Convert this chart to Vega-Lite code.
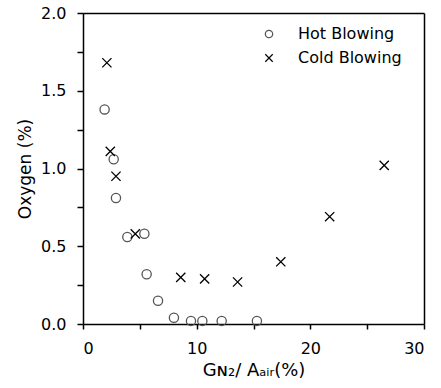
{
  "$schema": "https://vega.github.io/schema/vega-lite/v6.json",
  "width": 341,
  "height": 311,
  "autosize": {"type": "none"},
  "padding": {"left": 83, "top": 13, "right": 17, "bottom": 64},
  "config": {
    "font": "DejaVu Sans",
    "view": {"stroke": null},
    "axis": {
      "domainColor": "black",
      "domainWidth": 1.5,
      "tickColor": "black",
      "tickWidth": 1.5,
      "labelColor": "black",
      "titleColor": "black",
      "labelFontSize": 16,
      "titleFontWeight": "normal"
    }
  },
  "data": {
    "values": [
      {"series": "Hot Blowing", "g": 1.9, "o": 1.38},
      {"series": "Hot Blowing", "g": 2.7, "o": 1.06},
      {"series": "Hot Blowing", "g": 2.9, "o": 0.81},
      {"series": "Hot Blowing", "g": 3.9, "o": 0.56},
      {"series": "Hot Blowing", "g": 5.4, "o": 0.58},
      {"series": "Hot Blowing", "g": 5.6, "o": 0.32},
      {"series": "Hot Blowing", "g": 6.6, "o": 0.15},
      {"series": "Hot Blowing", "g": 8.0, "o": 0.04},
      {"series": "Hot Blowing", "g": 9.5, "o": 0.02},
      {"series": "Hot Blowing", "g": 10.5, "o": 0.02},
      {"series": "Hot Blowing", "g": 12.2, "o": 0.02},
      {"series": "Hot Blowing", "g": 15.3, "o": 0.02},
      {"series": "Cold Blowing", "g": 2.1, "o": 1.68},
      {"series": "Cold Blowing", "g": 2.4, "o": 1.11},
      {"series": "Cold Blowing", "g": 2.9, "o": 0.95},
      {"series": "Cold Blowing", "g": 4.6, "o": 0.58},
      {"series": "Cold Blowing", "g": 8.6, "o": 0.3},
      {"series": "Cold Blowing", "g": 10.7, "o": 0.29},
      {"series": "Cold Blowing", "g": 13.6, "o": 0.27},
      {"series": "Cold Blowing", "g": 17.4, "o": 0.4},
      {"series": "Cold Blowing", "g": 21.7, "o": 0.69},
      {"series": "Cold Blowing", "g": 26.5, "o": 1.02}
    ]
  },
  "mark": {"type": "point", "filled": false, "strokeWidth": 1.3, "size": 85, "opacity": 1},
  "encoding": {
    "x": {
      "field": "g",
      "type": "quantitative",
      "scale": {"domain": [0, 30], "nice": false},
      "axis": {
        "values": [0, 5, 10, 15, 20, 25, 30],
        "labelExpr": "datum.value % 10 === 0 ? datum.label : ''",
        "title": "Gɴ₂/ Aₐᵢᵣ(%)",
        "titleFontSize": 18,
        "tickSize": 5,
        "labelPadding": 11,
        "titlePadding": 5,
        "grid": true,
        "gridColor": "black",
        "gridWidth": 1.5,
        "gridOpacity": {"condition": {"test": "datum.value === 30", "value": 1}, "value": 0}
      }
    },
    "y": {
      "field": "o",
      "type": "quantitative",
      "scale": {"domain": [0, 2], "nice": false},
      "axis": {
        "values": [0, 0.25, 0.5, 0.75, 1, 1.25, 1.5, 1.75, 2],
        "labelExpr": "datum.value % 0.5 === 0 ? format(datum.value, '.1f') : ''",
        "title": "Oxygen (%)",
        "titleFontSize": 17,
        "tickSize": 6,
        "labelPadding": 11,
        "titlePadding": 6,
        "grid": true,
        "gridColor": "black",
        "gridWidth": 1.5,
        "gridOpacity": {"condition": {"test": "datum.value === 2", "value": 1}, "value": 0}
      }
    },
    "shape": {
      "field": "series",
      "type": "nominal",
      "scale": {"domain": ["Hot Blowing", "Cold Blowing"], "range": ["circle", "M-1,-1L1,1M-1,1L1,-1"]},
      "legend": {
        "title": null,
        "orient": "none",
        "legendX": 178,
        "legendY": 13,
        "labelFontSize": 16,
        "labelColor": "black",
        "symbolSize": 55,
        "symbolStrokeWidth": 1.2,
        "rowPadding": 8,
        "labelOffset": 21
      }
    },
    "color": {
      "field": "series",
      "type": "nominal",
      "scale": {"domain": ["Hot Blowing", "Cold Blowing"], "range": ["#555555", "#000000"]},
      "legend": {
        "title": null,
        "orient": "none",
        "legendX": 178,
        "legendY": 13,
        "labelFontSize": 16,
        "labelColor": "black",
        "symbolSize": 55,
        "symbolStrokeWidth": 1.2,
        "rowPadding": 8,
        "labelOffset": 21
      }
    }
  }
}
